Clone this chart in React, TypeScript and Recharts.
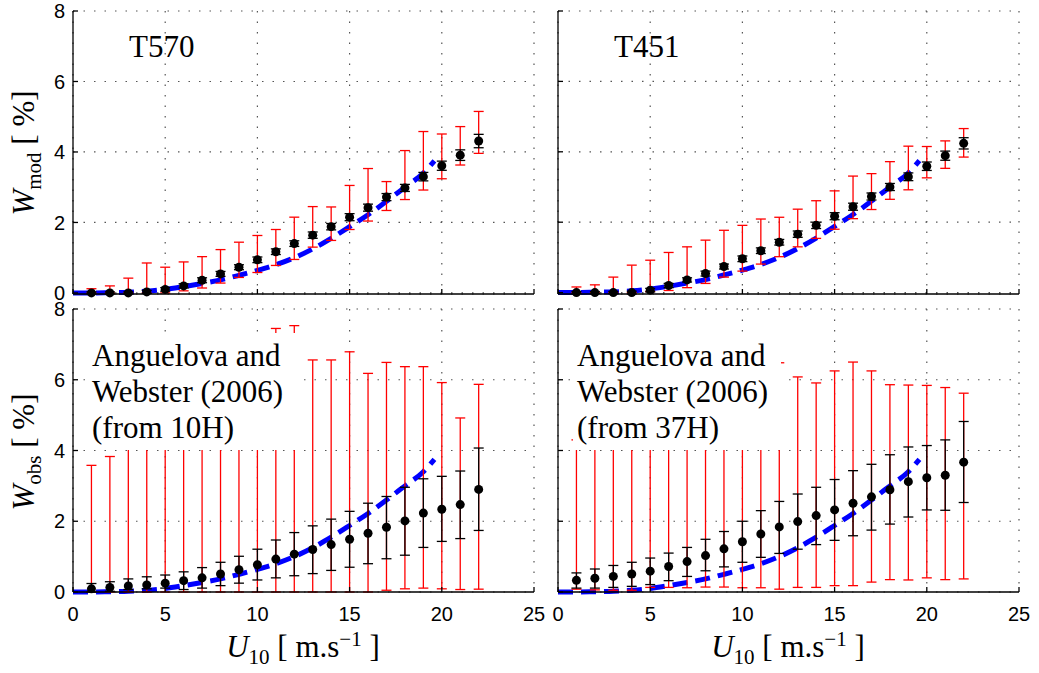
import React from 'react';
import {
  ComposedChart,
  Scatter,
  Line,
  ErrorBar,
  XAxis,
  YAxis,
  CartesianGrid,
} from 'recharts';

// wind speed bins (m/s)
const windSpeed = [1, 2, 3, 4, 5, 6, 7, 8, 9, 10, 11, 12, 13, 14, 15, 16, 17, 18, 19, 20, 21, 22];

// model curve (blue dashed), same in all panels
const modelU = [0, 1, 2, 3, 4, 5, 6, 7, 8, 9, 10, 11, 12, 13, 14, 15, 16, 17, 18, 19, 19.6];
const modelW = [0, 0, 0.01, 0.02, 0.05, 0.1, 0.18, 0.27, 0.37, 0.5, 0.64, 0.8, 1.0, 1.25, 1.55, 1.88, 2.22, 2.6, 3.0, 3.4, 3.75];

// T570 (W_mod)
const t570Mean = [0, 0, 0, 0.03, 0.1, 0.2, 0.36, 0.54, 0.73, 0.94, 1.17, 1.4, 1.64, 1.88, 2.15, 2.42, 2.72, 2.98, 3.3, 3.61, 3.91, 4.31];
const t570RedTop = [0.12, 0.2, 0.42, 0.85, 0.73, 0.88, 1.03, 1.23, 1.44, 1.63, 1.8, 2.15, 2.45, 2.44, 3.05, 3.53, 3.16, 4.04, 4.58, 4.51, 4.72, 5.15];
const t570RedBottom = [0, 0, 0, 0, 0, 0.06, 0.14, 0.28, 0.44, 0.58, 0.78, 0.95, 1.3, 1.49, 1.8, 2.04, 2.34, 2.65, 2.92, 3.24, 3.63, 3.96];
const t570BlackErr = [0.03, 0.03, 0.03, 0.04, 0.05, 0.06, 0.07, 0.07, 0.07, 0.08, 0.08, 0.08, 0.09, 0.09, 0.1, 0.1, 0.1, 0.1, 0.12, 0.13, 0.15, 0.19];

// T451 (W_mod)
const t451Mean = [0, 0, 0, 0, 0.07, 0.2, 0.36, 0.54, 0.74, 0.96, 1.19, 1.43, 1.66, 1.91, 2.17, 2.44, 2.73, 3.0, 3.29, 3.59, 3.89, 4.24];
const t451RedTop = [0.16, 0.22, 0.44, 0.78, 0.92, 1.14, 1.3, 1.49, 1.77, 1.91, 2.09, 2.14, 2.37, 2.61, 2.89, 3.31, 3.38, 3.72, 4.16, 4.15, 4.31, 4.66];
const t451RedBottom = [0, 0, 0, 0, 0.03, 0.06, 0.14, 0.26, 0.44, 0.61, 0.81, 1.02, 1.3, 1.54, 1.8, 2.1, 2.36, 2.65, 2.92, 3.26, 3.53, 3.85];
const t451BlackErr = [0.03, 0.03, 0.03, 0.04, 0.05, 0.06, 0.06, 0.07, 0.07, 0.08, 0.08, 0.08, 0.09, 0.09, 0.1, 0.1, 0.1, 0.1, 0.11, 0.12, 0.13, 0.16];

// Anguelova and Webster (2006), from 10H (W_obs)
const h10Mean = [0.09, 0.13, 0.17, 0.2, 0.25, 0.32, 0.4, 0.51, 0.63, 0.77, 0.93, 1.07, 1.2, 1.34, 1.49, 1.66, 1.83, 2.01, 2.23, 2.34, 2.47, 2.9];
const h10BlackTop = [0.24, 0.29, 0.37, 0.43, 0.48, 0.57, 0.69, 0.84, 1.01, 1.21, 1.47, 1.68, 1.87, 2.06, 2.28, 2.51, 2.7, 2.96, 3.2, 3.27, 3.42, 4.07];
const h10BlackBottom = [0, 0.02, 0.07, 0.09, 0.11, 0.07, 0.11, 0.18, 0.25, 0.34, 0.4, 0.46, 0.52, 0.61, 0.7, 0.8, 0.94, 1.04, 1.26, 1.43, 1.51, 1.74];
const h10RedTop = [3.58, 3.83, 4.4, 4.8, 5.2, 5.6, 6.0, 6.4, 6.8, 7.1, 7.45, 7.53, 6.56, 6.56, 6.79, 6.18, 6.49, 6.37, 6.37, 5.92, 4.92, 5.87];
const h10RedBottom = [0, 0, 0, 0, 0, 0, 0, 0, 0, 0, 0, 0, 0, 0, 0, 0, 0.05, 0.09, 0.11, 0.09, 0.07, 0.08];

// Anguelova and Webster (2006), from 37H (W_obs)
const h37Mean = [0.33, 0.39, 0.44, 0.51, 0.59, 0.72, 0.86, 1.03, 1.22, 1.42, 1.64, 1.84, 1.99, 2.16, 2.32, 2.51, 2.69, 2.89, 3.12, 3.23, 3.3, 3.67];
const h37BlackTop = [0.54, 0.65, 0.75, 0.84, 0.96, 1.1, 1.26, 1.49, 1.71, 2.0, 2.3, 2.56, 2.77, 2.96, 3.18, 3.43, 3.61, 3.88, 4.1, 4.14, 4.3, 4.82];
const h37BlackBottom = [0.11, 0.11, 0.13, 0.16, 0.21, 0.32, 0.44, 0.6, 0.71, 0.84, 0.98, 1.09, 1.21, 1.34, 1.46, 1.59, 1.75, 1.92, 2.12, 2.32, 2.31, 2.53];
const h37RedTop = [4.3, 4.5, 4.7, 4.9, 5.1, 5.3, 5.5, 5.7, 5.9, 6.1, 6.3, 6.48, 6.08, 5.91, 6.25, 6.5, 6.25, 5.86, 5.85, 5.84, 5.78, 5.62];
const h37RedBottom = [0.08, 0.06, 0.05, 0.05, 0.13, 0.13, 0.12, 0.14, 0.14, 0.12, 0.12, 0.08, 0.13, 0.13, 0.18, 0.18, 0.28, 0.35, 0.34, 0.4, 0.35, 0.37];

const xTicks = [0, 5, 10, 15, 20, 25];
const yTicks = [0, 2, 4, 6, 8];

const modelData = modelU.map((u, i) => ({ x: u, w: modelW[i] }));

const buildRows = (
  mean: number[],
  redTop: number[],
  redBottom: number[],
  black: (i: number, y: number) => number | number[]
) =>
  windSpeed.map((u, i) => ({
    x: u,
    y: mean[i],
    red: [mean[i] - redBottom[i], redTop[i] - mean[i]],
    black: black(i, mean[i]),
  }));

const t570Rows = buildRows(t570Mean, t570RedTop, t570RedBottom, (i) => t570BlackErr[i]);
const t451Rows = buildRows(t451Mean, t451RedTop, t451RedBottom, (i) => t451BlackErr[i]);
const h10Rows = buildRows(h10Mean, h10RedTop, h10RedBottom, (i, y) => [y - h10BlackBottom[i], h10BlackTop[i] - y]);
const h37Rows = buildRows(h37Mean, h37RedTop, h37RedBottom, (i, y) => [y - h37BlackBottom[i], h37BlackTop[i] - y]);

const tickStyle = { fill: '#000', fontSize: 20, fontFamily: 'Liberation Sans, Arial, sans-serif' };
const serif = '"Liberation Serif", "Times New Roman", serif';

const Dot = (props: any) => <circle cx={props.cx} cy={props.cy} r={4.5} fill="#000" />;

interface PanelProps {
  rows: any[];
  left: number;
  top: number;
  width: number;
  height: number;
  marginRight: number;
  yAxisWidth: number;
  xAxisHeight: number;
  showX: boolean;
  showY: boolean;
}

function Panel({ rows, left, top, width, height, marginRight, yAxisWidth, xAxisHeight, showX, showY }: PanelProps) {
  return (
    <div style={{ position: 'absolute', left, top }}>
      <ComposedChart width={width} height={height} margin={{ top: 11, right: marginRight, bottom: 0, left: 0 }}>
        <CartesianGrid stroke="#555" strokeDasharray="1.5 9" strokeWidth={1.2} />
        <XAxis
          type="number"
          dataKey="x"
          domain={[0, 25]}
          ticks={xTicks}
          height={xAxisHeight}
          stroke="#000"
          strokeWidth={1.3}
          tickSize={-5}
          tickMargin={20}
          tick={tickStyle}
          tickFormatter={(v) => (showX ? String(v) : '')}
          interval={0}
        />
        <YAxis
          type="number"
          domain={[0, 8]}
          ticks={yTicks}
          width={yAxisWidth}
          stroke="#000"
          strokeWidth={1.3}
          tickSize={-5}
          tickMargin={13}
          tick={tickStyle}
          tickFormatter={(v) => (showY ? String(v) : '')}
          interval={0}
        />
        <Line
          data={modelData}
          dataKey="w"
          type="monotone"
          stroke="#0000ff"
          strokeWidth={5}
          strokeDasharray="15 8"
          dot={false}
          activeDot={false}
          isAnimationActive={false}
        />
        <Scatter data={rows} dataKey="y" shape={Dot} isAnimationActive={false}>
          <ErrorBar dataKey="red" direction="y" stroke="#ff0000" strokeWidth={1.3} width={5} isAnimationActive={false} />
          <ErrorBar dataKey="black" direction="y" stroke="#000" strokeWidth={1.3} width={5} isAnimationActive={false} />
        </Scatter>
      </ComposedChart>
    </div>
  );
}

const labelText: React.CSSProperties = {
  position: 'absolute',
  fontFamily: serif,
  fontSize: 31,
  lineHeight: '36px',
  color: '#000',
  whiteSpace: 'nowrap',
};

function YLabel({ sub, cy }: { sub: string; cy: number }) {
  return (
    <div
      style={{
        ...labelText,
        left: 24,
        top: cy,
        transform: 'translate(-50%, -50%) rotate(-90deg)',
      }}
    >
      <i>W</i>
      <sub style={{ fontSize: 21, lineHeight: 0 }}>{sub}</sub> [ %]
    </div>
  );
}

function XLabel({ cx }: { cx: number }) {
  return (
    <div style={{ ...labelText, left: cx, top: 629, transform: 'translateX(-50%)' }}>
      <i>U</i>
      <sub style={{ fontSize: 21, lineHeight: 0 }}>10</sub> [ m.s
      <sup style={{ fontSize: 21, lineHeight: 0 }}>−1</sup> ]
    </div>
  );
}

function SourceBox({ left, source }: { left: number; source: string }) {
  return (
    <div
      style={{
        ...labelText,
        left,
        top: 333,
        width: left < 500 ? 212 : 208,
        height: 117,
        background: '#fff',
        paddingTop: 5,
        paddingLeft: 4,
        boxSizing: 'border-box',
      }}
    >
      Anguelova and
      <br />
      Webster (2006)
      <br />
      (from {source})
    </div>
  );
}

export default function App() {
  return (
    <div style={{ position: 'absolute', left: 0, top: 0, width: 1039, height: 673, background: '#fff', overflow: 'hidden' }}>
      <Panel rows={t570Rows} left={0} top={0} width={550} height={310} marginRight={16} yAxisWidth={73} xAxisHeight={16} showX={false} showY />
      <Panel rows={t451Rows} left={545} top={0} width={494} height={310} marginRight={20} yAxisWidth={13} xAxisHeight={16} showX={false} showY={false} />
      <Panel rows={h10Rows} left={0} top={298} width={550} height={375} marginRight={16} yAxisWidth={73} xAxisHeight={81} showX showY />
      <Panel rows={h37Rows} left={545} top={298} width={494} height={375} marginRight={20} yAxisWidth={13} xAxisHeight={81} showX showY={false} />

      <div style={{ ...labelText, left: 129, top: 29 }}>T570</div>
      <div style={{ ...labelText, left: 614, top: 29 }}>T451</div>

      <SourceBox left={88} source="10H" />
      <SourceBox left={573} source="37H" />

      <YLabel sub="mod" cy={153} />
      <YLabel sub="obs" cy={452} />
      <XLabel cx={303} />
      <XLabel cx={788} />
    </div>
  );
}
